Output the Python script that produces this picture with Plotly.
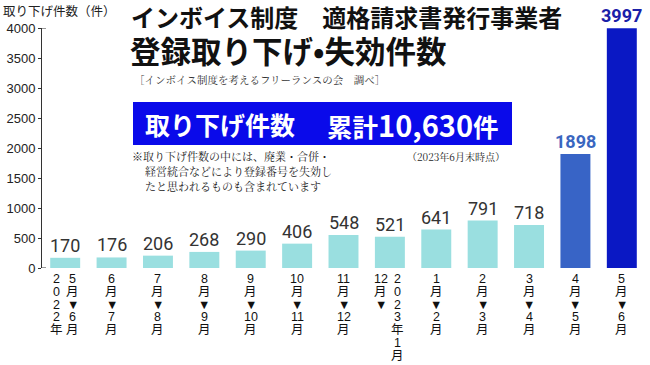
import plotly.graph_objects as go

# ---- data ----
periods = ["2022年5月→6月", "6月→7月", "7月→8月", "8月→9月", "9月→10月", "10月→11月",
           "11月→12月", "12月→2023年1月", "2023年1月→2月", "2月→3月", "3月→4月",
           "4月→5月", "5月→6月"]
values = [170, 176, 206, 268, 290, 406, 548, 521, 641, 791, 718, 1898, 3997]
# vertical tick labels: each label = list of columns, each column = rows separated by "|"
tick_columns = [
    ["2|0|2|2|年", "5|月|▼|6|月"],
    ["6|月|▼|7|月"],
    ["7|月|▼|8|月"],
    ["8|月|▼|9|月"],
    ["9|月|▼|10|月"],
    ["10|月|▼|11|月"],
    ["11|月|▼|12|月"],
    ["12|月|▼", "2|0|2|3|年|1|月"],
    ["1|月|▼|2|月"],
    ["2|月|▼|3|月"],
    ["3|月|▼|4|月"],
    ["4|月|▼|5|月"],
    ["5|月|▼|6|月"],
]
y_ticks = [0, 500, 1000, 1500, 2000, 2500, 3000, 3500, 4000]
y_title = "取り下げ件数（件）"
title1 = "インボイス制度　適格請求書発行事業者"
title2 = "登録取り下げ•失効件数"
source = "［インボイス制度を考えるフリーランスの会　調べ］"
box_left = "取り下げ件数"
box_right_word = "累計"
box_right_num = "10,630"
box_right_unit = "件"
note_lines = ["※取り下げ件数の中には、廃業・合併・",
              "経営統合などにより登録番号を失効し",
              "たと思われるものも含まれています"]
as_of = "（2023年6月末時点）"

# ---- styles ----
CYAN = "#9ADFE0"
MID = "#3864C6"
DEEP = "#0A18C4"
bar_colors = [CYAN] * 11 + [MID, DEEP]
label_colors = ["#333333"] * 11 + ["#3A66C0", "#1A20A8"]

W, H = 650, 365
ML, MR, MT, MB = 42, 5, 28, 97
PW, PH = W - ML - MR, H - MT - MB

def fx(x):
    return (x - ML) / PW

def fy(y):
    return (H - MB - y) / PH

fig = go.Figure(go.Bar(
    x=periods, y=values, marker=dict(color=bar_colors, line=dict(width=0)),
    hoverinfo="skip",
))

fig.update_layout(
    width=W, height=H, margin=dict(l=ML, r=MR, t=MT, b=MB),
    paper_bgcolor="white", plot_bgcolor="white", showlegend=False,
    bargap=0.354,
    xaxis=dict(showticklabels=False, showline=False, ticks="", showgrid=False,
               zeroline=False, range=[-0.5, 12.5]),
    yaxis=dict(range=[0, 4000], tickvals=y_ticks, showgrid=False, zeroline=False,
               showline=True, linecolor="#333333", linewidth=1, ticks="outside",
               ticklen=3, tickcolor="#333333",
               tickfont=dict(family="Liberation Sans, Arial, sans-serif", size=13, color="#222222")),
)

# axis end caps (short right-pointing ticks at 0 and 4000)
for yv in (y_ticks[0], y_ticks[-1]):
    fig.add_shape(type="line", xref="paper", yref="y", x0=0, x1=fx(ML + 4), y0=yv, y1=yv,
                  line=dict(color="#333333", width=1))

ann = []
SANS_JP = "Noto Sans CJK JP, sans-serif"
SERIF_JP = "Noto Serif CJK JP, serif"

def px(x, y, text, size, family=SANS_JP, color="#111111", xanchor="left", yanchor="middle"):
    ann.append(dict(x=fx(x), y=fy(y), xref="paper", yref="paper", text=text,
                    showarrow=False, xanchor=xanchor, yanchor=yanchor, borderpad=0,
                    font=dict(size=size, family=family, color=color)))

# value labels
for i, (cat, v) in enumerate(zip(periods, values)):
    t = f"<b>{v}</b>" if i >= 11 else str(v)
    ann.append(dict(x=cat, y=v, xref="x", yref="y", text=t, showarrow=False,
                    xanchor="center", yanchor="bottom", yshift=0,
                    font=dict(family="Roboto, Noto Sans, sans-serif", size=18,
                              color=label_colors[i])))

# y-axis title
px(2, 10, y_title, 12.5, color="#222222")
# titles
px(130, 16.5, f"<b>{title1}</b>", 24, color="#111111")
px(129, 50, f"<b>{title2}</b>", 30.5, color="#111111")
px(133, 79, source, 10.5, family=SERIF_JP, color="#333333")
# blue box
fig.add_shape(type="rect", xref="paper", yref="paper",
              x0=fx(133), x1=fx(512), y0=fy(145), y1=fy(102),
              fillcolor="#0A0AEA", line=dict(width=0), layer="above")
px(144, 124, f"<b>{box_left}</b>", 25, color="white")
px(326, 124, f"<b>{box_right_word}<span style='font-size:29px'>{box_right_num}</span>{box_right_unit}</b>",
   25.5, color="white")
# note
px(131, 156, note_lines[0], 11, family=SERIF_JP, color="#222222")
px(144, 171, note_lines[1], 11, family=SERIF_JP, color="#222222")
px(144, 186, note_lines[2], 11, family=SERIF_JP, color="#222222")
px(506, 156, as_of, 10, family=SERIF_JP, color="#222222", xanchor="right")

# vertical x tick labels
ROW0, PITCH = 11, 12.8
for cat, cols in zip(periods, tick_columns):
    offsets = [0] if len(cols) == 1 else [-9, 7.5]
    for col, dx in zip(cols, offsets):
        for r, ch in enumerate(col.split("|")):
            ann.append(dict(x=cat, y=0, xref="x", yref="paper", text=ch,
                            showarrow=False, xanchor="center", yanchor="middle",
                            xshift=dx, yshift=-(ROW0 + r * PITCH), borderpad=0,
                            font=dict(size=12.5, family="Liberation Sans, Noto Sans CJK JP, sans-serif",
                                      color="#111111")))

fig.update_layout(annotations=ann)
fig.write_html("out.html", config={"displayModeBar": False},
               post_script="document.body.style.margin='0';")
